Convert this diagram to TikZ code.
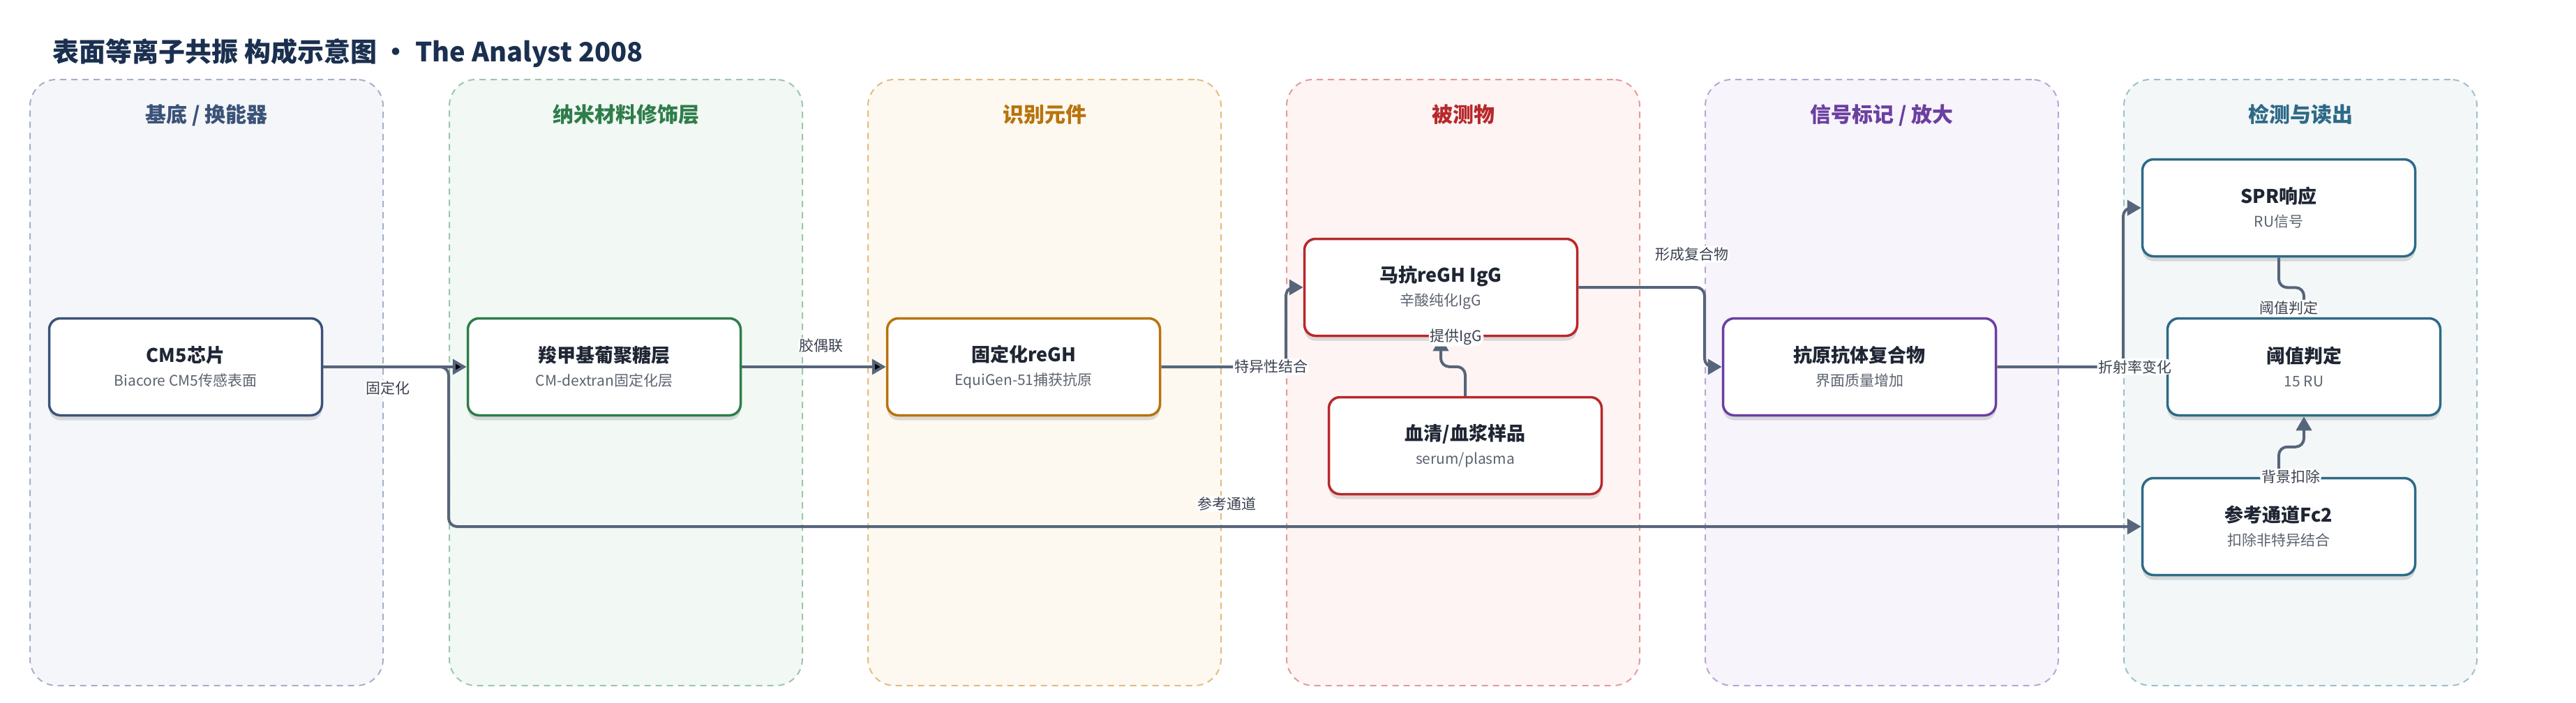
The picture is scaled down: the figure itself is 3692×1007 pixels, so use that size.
\documentclass[tikz,border=0pt]{standalone}
\usepackage{fontspec}
\setmainfont{Noto Sans CJK SC}
\usetikzlibrary{positioning,arrows.meta,shadows}

\definecolor{titlec}{HTML}{1B3050}
\definecolor{inkc}{HTML}{1F2633}
\definecolor{subc}{HTML}{5C6370}
\definecolor{lblc}{HTML}{3B4150}
\definecolor{flowc}{HTML}{56657A}
% lane colours: S substrate, N nano layer, R recognition, A analyte, L label, D detection
\definecolor{inkS}{HTML}{3B5378}\definecolor{fillS}{HTML}{F5F6FA}\definecolor{dashS}{HTML}{A3B1C8}
\definecolor{inkN}{HTML}{2E7D4A}\definecolor{fillN}{HTML}{F2F8F4}\definecolor{dashN}{HTML}{9CC7AA}
\definecolor{inkR}{HTML}{B8730C}\definecolor{fillR}{HTML}{FDF8F0}\definecolor{dashR}{HTML}{E3BC80}
\definecolor{inkA}{HTML}{B7282B}\definecolor{fillA}{HTML}{FEF4F3}\definecolor{dashA}{HTML}{E39C9B}
\definecolor{inkL}{HTML}{6B3FA0}\definecolor{fillL}{HTML}{F7F4FB}\definecolor{dashL}{HTML}{BAA5D8}
\definecolor{inkD}{HTML}{2E6A87}\definecolor{fillD}{HTML}{F3F7F8}\definecolor{dashD}{HTML}{9EC0CC}

\newcommand{\nodetxt}[2]{#1\\{\fontsize{21}{26}\selectfont\mdseries\color{subc}#2}}

\begin{document}
\begin{tikzpicture}[x=1pt, y=-1pt, on grid, node distance=600pt,
  lane/.style 2 args={draw=#1, fill=#2, dash pattern=on 9pt off 7pt, line width=2pt,
    rounded corners=38pt, minimum width=506pt, minimum height=869pt, anchor=north west, inner sep=0pt},
  lanelbl/.style={font=\fontsize{30}{36}\selectfont\bfseries},
  box/.style={draw=#1, fill=white, line width=3.5pt, rounded corners=16pt,
    minimum width=391pt, minimum height=139pt, align=center, text=inkc,
    font=\fontsize{27}{34}\selectfont\bfseries,
    drop shadow={shadow xshift=0pt, shadow yshift=-7pt, opacity=.12, fill=black}},
  flow/.style={draw=flowc, line width=4pt, rounded corners=12pt, -{Triangle[length=20pt,width=22pt]}},
  lbl/.style={fill=white, inner sep=2pt, text=lblc, font=\fontsize{21}{25}\selectfont}]
\useasboundingbox (0,0) rectangle (3692,1007);

\node[anchor=west, text=titlec, font=\fontsize{38}{46}\selectfont\bfseries] (title) at (72,76)
  {表面等离子共振 构成示意图 · The Analyst 2008};

% lanes
\foreach \n/\x/\c/\t in {1/42/S/{基底 / 换能器}, 2/643/N/{纳米材料修饰层}, 3/1243/R/{识别元件},
    4/1843/A/{被测物}, 5/2443/L/{信号标记 / 放大}, 6/3043/D/{检测与读出}} {
  \node[lane={dash\c}{fill\c}] (L\n) at (\x,113) {};
  \node[lanelbl, text=ink\c, below=33pt of L\n.north] {\t};
}

% nodes
\node[box=inkS] (cm5) at (266,526) {\nodetxt{CM5芯片}{Biacore CM5传感表面}};
\node[box=inkN, right=600pt of cm5] (cmd) {\nodetxt{羧甲基葡聚糖层}{CM-dextran固定化层}};
\node[box=inkR, right=601pt of cmd] (fix) {\nodetxt{固定化reGH}{EquiGen-51捕获抗原}};
\node[box=inkA, above right=114pt and 598pt of fix] (mab) {\nodetxt{马抗reGH IgG}{辛酸纯化IgG}};
\node[box=inkA, below right=227pt and 35pt of mab] (serum) {\nodetxt{血清/血浆样品}{serum/plasma}};
\node[box=inkL, right=1198pt of fix] (cplx) {\nodetxt{抗原抗体复合物}{界面质量增加}};
\node[box=inkD, right=637pt of cplx] (thr) {\nodetxt{阈值判定}{15 RU}};
\node[box=inkD, above left=228pt and 36pt of thr] (spr) {\nodetxt{SPR响应}{RU信号}};
\node[box=inkD, below left=229pt and 36pt of thr] (ref) {\nodetxt{参考通道Fc2}{扣除非特异结合}};

% connectors
\draw[flow] (cm5.east) -- (cm5.east -| L2.west) |- node[lbl, above=19pt, pos=.73] {参考通道} (ref.west);
\path[flow] (cm5) edge node[lbl, below=17pt, pos=.45] {固定化} (cmd)
  (cmd) edge node[lbl, above=17pt, pos=.55] {胶偶联} (fix);
\draw[flow] (fix.east) -- node[lbl, pos=.88] {特异性结合} (fix.east -| L4.west) |- (mab.west);
\draw[flow] (serum.north) -- ++(0,-42) -| node[lbl, pos=1, xshift=22pt] {提供IgG} (mab.south);
\draw[flow] (mab.east) -- node[lbl, above=34pt, pos=.9] {形成复合物} (mab.east -| L5.west) |- (cplx.west);
\draw[flow] (cplx.east) -- node[lbl, pos=1, xshift=17pt] {折射率变化} (cplx.east -| L6.west) |- (spr.west);
\draw[flow] (spr.south) -- ++(0,43) -| node[lbl, pos=1, xshift=-22pt, yshift=13pt] {阈值判定} (thr.north);
\draw[flow] (ref.north) -- node[lbl, pos=0, xshift=17pt] {背景扣除} ++(0,-43) -| (thr.south);
\end{tikzpicture}
\end{document}
